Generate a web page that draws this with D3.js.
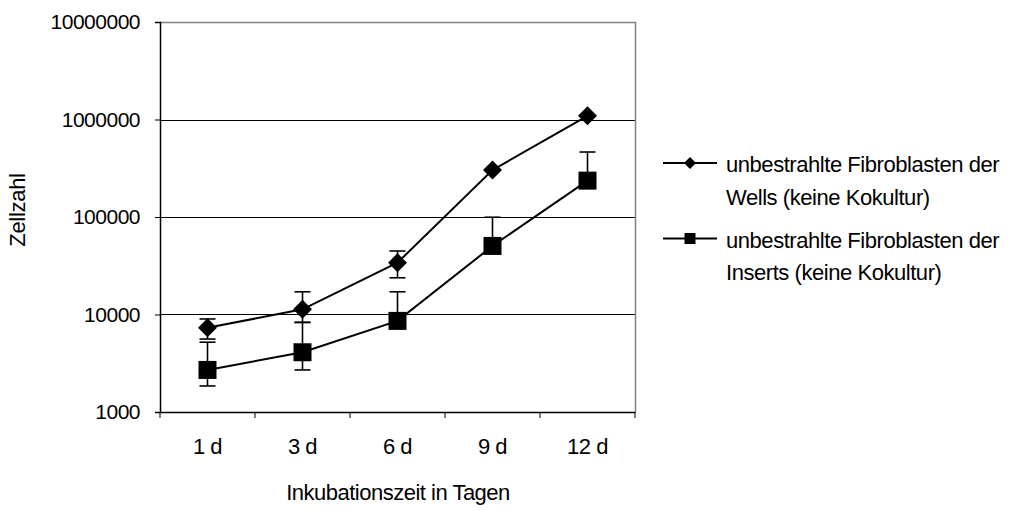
<!DOCTYPE html>
<html>
<head>
<meta charset="utf-8">
<script src="https://cdn.jsdelivr.net/npm/d3@7"></script>
<style>
  body { margin: 0; background: #fff; }
  svg { display: block; font-family: "Liberation Sans", Arial, sans-serif; }
</style>
</head>
<body>
<svg class="chart" width="1009" height="510"></svg>
<script>
var days = ["1 d", "3 d", "6 d", "9 d", "12 d"];
var yTicks = [1000, 10000, 100000, 1000000, 10000000];

// Wells (diamond)
var wellsMean = [7300, 11300, 34000, 303000, 1090000];
var wellsHi   = [9000, 17100, 44800, 303000, 1090000];
var wellsLo   = [5600, 8300, 23800, 303000, 1090000];

// Inserts (square)
var insertsMean = [2700, 4100, 8600, 50500, 236000];
var insertsHi   = [5200, 8300, 17100, 99500, 464000];
var insertsLo   = [1850, 2700, 8600, 50500, 236000];

var seriesNames = [
  ["unbestrahlte Fibroblasten der", "Wells (keine Kokultur)"],
  ["unbestrahlte Fibroblasten der", "Inserts (keine Kokultur)"]
];

var svg = d3.select(".chart");
var plotLeft = 160, plotRight = 635, plotTop = 22, plotBottom = 412;

var x = d3.scaleBand().domain(days).range([plotLeft, plotRight]);
var y = d3.scaleLog().domain([1000, 10000000]).range([plotBottom, plotTop]);

// gridlines
svg.selectAll(".grid").data(yTicks.slice(1, 4))
  .enter().append("line")
    .attr("x1", plotLeft).attr("x2", plotRight)
    .attr("y1", function(d) { return Math.round(y(d)) + 0.5; })
    .attr("y2", function(d) { return Math.round(y(d)) + 0.5; })
    .attr("stroke", "#000").attr("stroke-width", 1);

// plot border (top & right)
svg.append("path")
  .attr("d", "M" + plotLeft + "," + (plotTop + 0.5) + "H" + (plotRight + 0.5) + "V" + plotBottom)
  .attr("fill", "none").attr("stroke", "#808080").attr("stroke-width", 1.5);

// y axis
var yAxis = d3.axisLeft(y).tickValues(yTicks).tickFormat(d3.format("d")).tickSize(5).tickPadding(15);
var gy = svg.append("g").attr("transform", "translate(" + plotLeft + ",0)").call(yAxis);
gy.select(".domain").attr("stroke", "#000").attr("stroke-width", 1.5);
gy.selectAll(".tick line").attr("stroke", "#000");
gy.selectAll("text").attr("font-size", 21).attr("letter-spacing", -0.5).attr("fill", "#000")
  .attr("font-family", "Liberation Sans, Arial, sans-serif");

// x axis
var xAxis = d3.axisBottom(x).tickSize(0).tickPadding(0);
var gx = svg.append("g").attr("transform", "translate(0," + plotBottom + ")").call(xAxis);
gx.select(".domain").attr("stroke", "#000").attr("stroke-width", 1.5);
gx.selectAll(".tick text").attr("font-size", 22).attr("letter-spacing", -0.5).attr("fill", "#000")
  .attr("font-family", "Liberation Sans, Arial, sans-serif")
  .attr("dy", null).attr("y", 42);
gx.selectAll(".edge").data(d3.range(days.length + 1))
  .enter().append("line")
    .attr("x1", function(i) { return plotLeft + i * x.bandwidth(); })
    .attr("x2", function(i) { return plotLeft + i * x.bandwidth(); })
    .attr("y1", 0).attr("y2", 6)
    .attr("stroke", "#000").attr("stroke-width", 1);

// axis titles
svg.append("text")
  .attr("x", 398).attr("y", 500)
  .attr("text-anchor", "middle").attr("font-size", 22).attr("letter-spacing", -0.5)
  .text("Inkubationszeit in Tagen");
svg.append("text")
  .attr("transform", "translate(25,210) rotate(-90)")
  .attr("text-anchor", "middle").attr("font-size", 22).attr("letter-spacing", -0.3)
  .text("Zellzahl");

function cx(i) { return x(days[i]) + x.bandwidth() / 2; }

function drawErrors(mean, hi, lo) {
  var g = svg.append("g").attr("stroke", "#000").attr("stroke-width", 1.6);
  mean.forEach(function(m, i) {
    var c = cx(i);
    if (hi[i] > m) {
      g.append("line").attr("x1", c).attr("x2", c).attr("y1", y(m)).attr("y2", y(hi[i]));
      g.append("line").attr("x1", c - 8).attr("x2", c + 8).attr("y1", y(hi[i])).attr("y2", y(hi[i]));
    }
    if (lo[i] < m) {
      g.append("line").attr("x1", c).attr("x2", c).attr("y1", y(m)).attr("y2", y(lo[i]));
      g.append("line").attr("x1", c - 8).attr("x2", c + 8).attr("y1", y(lo[i])).attr("y2", y(lo[i]));
    }
  });
}

drawErrors(wellsMean, wellsHi, wellsLo);
drawErrors(insertsMean, insertsHi, insertsLo);

var line = d3.line()
  .x(function(d, i) { return cx(i); })
  .y(function(d) { return y(d); });

[wellsMean, insertsMean].forEach(function(s) {
  svg.append("path").datum(s)
    .attr("d", line)
    .attr("fill", "none").attr("stroke", "#000").attr("stroke-width", 2);
});

function diamond(g, c, yy, r) {
  g.append("path")
    .attr("d", "M" + c + "," + (yy - r) + "L" + (c + r) + "," + yy + "L" + c + "," + (yy + r) + "L" + (c - r) + "," + yy + "Z")
    .attr("fill", "#000");
}
function square(g, c, yy, s) {
  g.append("rect").attr("x", c - s / 2).attr("y", yy - s / 2)
    .attr("width", s).attr("height", s).attr("fill", "#000");
}

var marks = svg.append("g");
wellsMean.forEach(function(d, i) { diamond(marks, cx(i), y(d), 9.5); });
insertsMean.forEach(function(d, i) { square(marks, cx(i), y(d), 18); });

// legend
var legend = svg.append("g");
var legendY = [163, 238.5];
legendY.forEach(function(ly, k) {
  legend.append("line").attr("x1", 663).attr("x2", 717)
    .attr("y1", ly).attr("y2", ly).attr("stroke", "#000").attr("stroke-width", 2);
  if (k === 0) diamond(legend, 690, ly, 6);
  else square(legend, 690, ly, 11);
  seriesNames[k].forEach(function(t, j) {
    legend.append("text").attr("x", 726).attr("y", ly + 9 + j * 32.5)
      .attr("font-size", 22).attr("letter-spacing", -0.45).text(t);
  });
});
</script>
</body>
</html>
